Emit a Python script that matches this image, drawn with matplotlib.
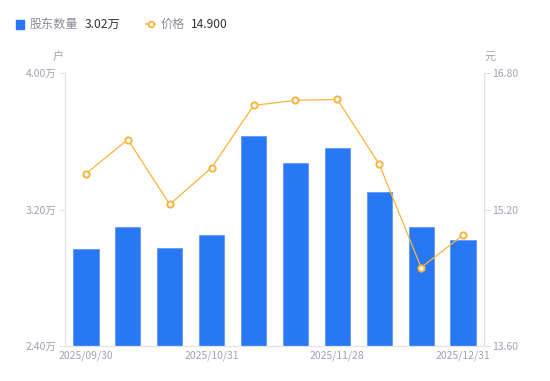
import numpy as np
import matplotlib
matplotlib.use('Agg')
import matplotlib.pyplot as plt
from matplotlib.lines import Line2D

plt.rcParams['font.family'] = ['Noto Sans CJK SC', 'DejaVu Sans']

dates = ['2025/09/30', '', '', '2025/10/31', '', '', '2025/11/28', '', '', '2025/12/31']
holders = [2.97, 3.10, 2.975, 3.05, 3.63, 3.47, 3.56, 3.30, 3.10, 3.02]
price = [15.62, 16.02, 15.26, 15.69, 16.42, 16.48, 16.49, 15.73, 14.52, 14.90]

blue = '#2878F5'
orange = '#F8B43C'
grey = '#A0A3B1'
axis_col = '#E3E3E6'

fig = plt.figure(figsize=(5.5, 3.81), dpi=100)
ax1 = fig.add_axes([65/550, 1-346/381, 419/550, 273/381])
ax2 = ax1.twinx()

x = np.arange(len(holders))
ax1.bar(x, holders, width=0.6, color=blue, edgecolor='#5C9BF7', linewidth=0.6, zorder=2)
ax1.set_ylim(2.40, 4.00)
ax1.set_xlim(-0.5, len(holders)-0.5)
ax1.set_yticks([2.40, 3.20, 4.00])
ax1.set_yticklabels(['2.40万', '3.20万', '4.00万'])

ax2.plot(x, price, color=orange, linewidth=0.9, marker='o', markersize=4.5,
         markerfacecolor='white', markeredgecolor=orange, markeredgewidth=1.4, zorder=3)
ax2.set_ylim(13.60, 16.80)
ax2.set_yticks([13.60, 15.20, 16.80])
ax2.set_yticklabels(['13.60', '15.20', '16.80'])

ax1.set_xticks(x)
ax1.set_xticklabels(dates)
ax1.tick_params(axis='x', length=0, colors=grey, labelsize=7.5, pad=3)
ax1.tick_params(axis='y', length=4, width=0.8, color=axis_col, labelcolor=grey, labelsize=7.5, pad=2)
ax2.tick_params(axis='y', length=4, width=0.8, color=axis_col, labelcolor=grey, labelsize=7.5, pad=2)

for a in (ax1, ax2):
    a.spines['top'].set_visible(False)
    for s in ('left', 'right', 'bottom'):
        a.spines[s].set_color(axis_col)
        a.spines[s].set_linewidth(0.9)
ax1.spines['right'].set_visible(False)
ax2.spines['left'].set_visible(False)
ax2.spines['bottom'].set_visible(False)

fig.text(58/550, 1-57/381, '户', color=grey, fontsize=8, ha='center', va='center')
fig.text(490/550, 1-57/381, '元', color=grey, fontsize=8, ha='center', va='center')

# legend
fig.patches.append(plt.Rectangle((16/550, 1-29/381), 8/550, 9/381, transform=fig.transFigure,
                                 color=blue, figure=fig))
fig.text(30/550, 1-24/381, '股东数量', color='#8A8D99', fontsize=8.7, va='center')
fig.text(85/550, 1-24/381, '3.02万', color='#333333', fontsize=8.7, va='center')
fig.lines.append(Line2D([146/550, 150.5/550, 155/550], [1-24/381]*3, transform=fig.transFigure,
                        color=orange, linewidth=1.2, marker='o', markersize=4,
                        markerfacecolor='white', markeredgecolor=orange, markeredgewidth=1.3,
                        markevery=[1], figure=fig))
fig.text(161/550, 1-24/381, '价格', color='#8A8D99', fontsize=8.7, va='center')
fig.text(191/550, 1-24/381, '14.900', color='#333333', fontsize=8.7, va='center')

fig.savefig('out.png', dpi=100)
